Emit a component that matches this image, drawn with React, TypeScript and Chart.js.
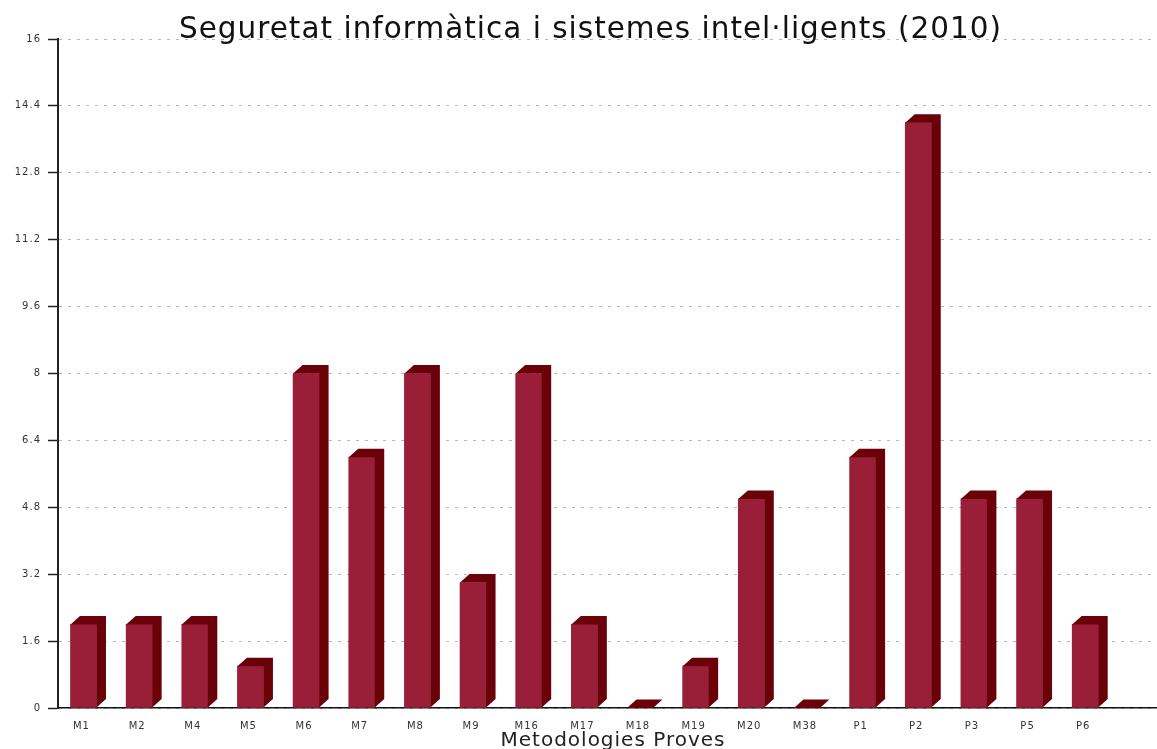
import React, { useEffect, useRef } from 'react';
import { Chart, registerables } from 'chart.js';

Chart.register(...registerables);

const categories = ['M1', 'M2', 'M4', 'M5', 'M6', 'M7', 'M8', 'M9', 'M16', 'M17', 'M18', 'M19', 'M20', 'M38', 'P1', 'P2', 'P3', 'P5', 'P6'];
const values = [2, 2, 2, 1, 8, 6, 8, 3, 8, 2, 0, 1, 5, 0, 6, 14, 5, 5, 2];
const yMin = 0;
const yMax = 16;
const yStep = 1.6;
const titleText = 'Seguretat informàtica i sistemes intel·ligents (2010)';
const xTitleText = 'Metodologies Proves';

const FAMILY = "'DejaVu Sans', Verdana, sans-serif";
const FRONT = '#981f37';
const DARK = '#6a0008';
const DX = 9.5;
const DY = 8.5;

const bar3d = {
  id: 'bar3d',
  beforeUpdate(chart: any) {
    chart.ctx.letterSpacing = '1px';
  },
  beforeDraw(chart: any) {
    chart.ctx.letterSpacing = '1px';
  },
  afterDatasetsDraw(chart: any) {
    const ctx = chart.ctx;
    const meta = chart.getDatasetMeta(0);
    ctx.save();
    ctx.fillStyle = DARK;
    meta.data.forEach((el: any) => {
      const { x, y, base, width } = el.getProps(['x', 'y', 'base', 'width'], true);
      const l = x - width / 2;
      const r = x + width / 2;
      ctx.beginPath();
      ctx.moveTo(l, y);
      ctx.lineTo(l + DX, y - DY);
      ctx.lineTo(r + DX, y - DY);
      ctx.lineTo(r + DX, base - DY);
      ctx.lineTo(r, base);
      ctx.lineTo(r, y);
      ctx.closePath();
      ctx.fill();
    });
    ctx.restore();
  },
};

export default function App() {
  const ref = useRef<HTMLCanvasElement>(null);

  useEffect(() => {
    if (!ref.current) return;
    Chart.defaults.font.family = FAMILY;
    const chart = new Chart(ref.current, {
      type: 'bar',
      data: {
        datasets: [
          {
            data: categories.map((_, i) => ({ x: i, y: values[i] })),
            backgroundColor: FRONT,
            borderWidth: 0,
            barThickness: 26,
          },
        ],
      },
      options: {
        responsive: false,
        animation: false,
        devicePixelRatio: 1,
        layout: { padding: { left: 13, right: 0, top: 0, bottom: 0 } },
        plugins: {
          legend: { display: false },
          tooltip: { enabled: false },
          title: {
            display: true,
            text: titleText,
            color: '#111',
            font: { family: FAMILY, size: 29.5, weight: 'normal' },
            padding: { top: 12.8, bottom: -9.2 },
          },
        },
        scales: {
          x: {
            type: 'linear',
            offset: false,
            min: -0.458,
            max: 19.488,
            afterBuildTicks: (s: any) => {
              s.ticks = categories.map((_, i) => ({ value: i }));
            },
            afterFit: (s: any) => {
              s.height = 41;
            },
            ticks: {
              callback: (v: any) => categories[v] ?? '',
              color: '#333',
              font: { family: FAMILY, size: 10 },
              padding: 12,
              maxRotation: 0,
              autoSkip: false,
              labelOffset: -2,
            },
            grid: { display: false, drawTicks: false },
            border: { display: true, color: '#111', width: 1.5 },
            title: {
              display: true,
              text: xTitleText,
              color: '#222',
              font: { family: FAMILY, size: 20 },
              padding: { top: 0, bottom: -4 },
            },
          },
          y: {
            min: yMin,
            max: yMax,
            afterFit: (s: any) => {
              s.width = 45;
            },
            ticks: {
              stepSize: yStep,
              color: '#333',
              font: { family: FAMILY, size: 10 },
              padding: 7,
              callback: (v: any) => String(Math.round(Number(v) * 10) / 10),
            },
            grid: {
              color: '#b8b8b8',
              lineWidth: 1,
              drawTicks: true,
              tickLength: 10,
              tickColor: '#222',
              tickWidth: 1.5,
            },
            border: { display: true, color: '#222', width: 2, dash: [3, 6] },
          },
        },
      },
      plugins: [bar3d],
    } as any);
    return () => chart.destroy();
  }, []);

  return (
    <div style={{ position: 'fixed', left: 0, top: 0, width: 1157, height: 749, background: '#fff', overflow: 'hidden' }}>
      <canvas ref={ref} width={1168} height={749} />
    </div>
  );
}
